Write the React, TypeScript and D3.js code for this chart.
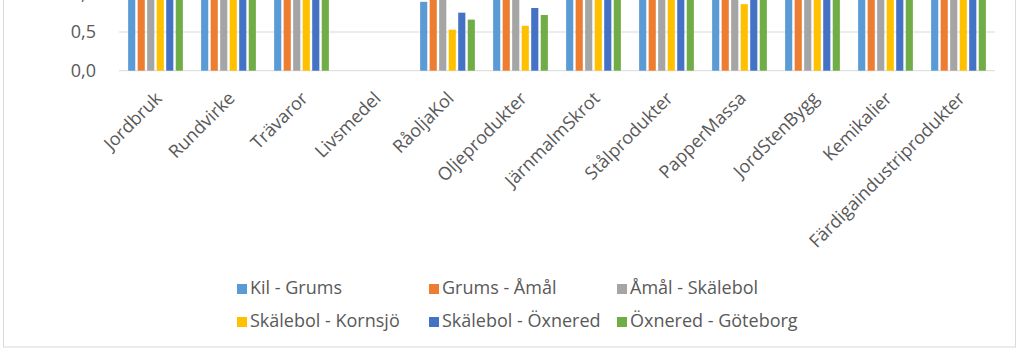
import { useEffect, useRef } from 'react';
import * as d3 from 'd3';

const categories = [
  'Jordbruk', 'Rundvirke', 'Trävaror', 'Livsmedel', 'RåoljaKol', 'Oljeprodukter',
  'JärnmalmSkrot', 'Stålprodukter', 'PapperMassa', 'JordStenBygg', 'Kemikalier',
  'Färdigaindustriprodukter',
];

const seriesNames = [
  'Kil - Grums', 'Grums - Åmål', 'Åmål - Skälebol',
  'Skälebol - Kornsjö', 'Skälebol - Öxnered', 'Öxnered - Göteborg',
];

const seriesColors = ['#5B9BD5', '#ED7D31', '#A5A5A5', '#FFC000', '#4472C4', '#70AD47'];

// one array per series, in category order
const kilGrums = [1, 1, 1, 0, 0.89, 1, 1, 1, 1, 1, 1, 1];
const grumsAmal = [1, 1, 1, 0, 1, 1, 1, 1, 1, 1, 1, 1];
const amalSkalebol = [1, 1, 1, 0, 1, 1, 1, 1, 1, 1, 1, 1];
const skalebolKornsjo = [1, 1, 1, 0, 0.53, 0.58, 1, 1, 0.86, 1, 1, 1];
const skalebolOxnered = [1, 1, 1, 0, 0.75, 0.81, 1, 1, 1, 1, 1, 1];
const oxneredGoteborg = [1, 1, 1, 0, 0.66, 0.72, 1, 1, 1, 1, 1, 1];

const seriesValues = [kilGrums, grumsAmal, amalSkalebol, skalebolKornsjo, skalebolOxnered, oxneredGoteborg];

const yTicks = [0, 0.5, 1];

const FONT = '"Open Sans", "Noto Sans", sans-serif';
const TEXT = '#595959';

export default function App() {
  const svgRef = useRef<SVGSVGElement>(null);
  const width = 1023;
  const height = 354;

  useEffect(() => {
    if (!svgRef.current) return;
    const svg = d3.select(svgRef.current);
    svg.selectAll('*').remove();

    // chart frame (top edge is cut off in the picture)
    svg.append('rect')
      .attr('x', 3.5)
      .attr('y', -10)
      .attr('width', 1012)
      .attr('height', 357)
      .attr('fill', 'white')
      .attr('stroke', '#d9d9d9');

    const plot = { left: 119, right: 995, top: -6.7, bottom: 70.7 };

    const x0 = d3.scaleBand()
      .domain(categories)
      .range([plot.left, plot.right])
      .paddingInner(0.25)
      .paddingOuter(0.125);

    const x1 = d3.scaleBand()
      .domain(seriesNames)
      .range([0, x0.bandwidth()])
      .paddingInner(0.25);

    const y = d3.scaleLinear()
      .domain([0, 1])
      .range([plot.bottom, plot.top]);

    // grid
    svg.append('g')
      .selectAll('line')
      .data(yTicks)
      .join('line')
      .attr('x1', plot.left)
      .attr('x2', plot.right)
      .attr('y1', d => y(d))
      .attr('y2', d => y(d))
      .attr('stroke', '#d9d9d9')
      .attr('stroke-width', 1);

    // y labels
    svg.append('g')
      .selectAll('text')
      .data(yTicks)
      .join('text')
      .attr('x', 96)
      .attr('y', d => y(d))
      .attr('dy', '0.35em')
      .attr('text-anchor', 'end')
      .attr('font-family', FONT)
      .attr('font-size', '18px')
      .attr('fill', TEXT)
      .text(d => d3.format('.1f')(d).replace('.', ','));

    // bars
    const groups = svg.append('g')
      .selectAll('g')
      .data(categories)
      .join('g')
      .attr('transform', d => `translate(${x0(d)},0)`);

    groups.selectAll('rect')
      .data((_, i) => seriesNames.map((s, j) => ({ s, v: seriesValues[j][i], c: seriesColors[j] })))
      .join('rect')
      .attr('x', d => x1(d.s) || 0)
      .attr('y', d => y(d.v))
      .attr('width', x1.bandwidth())
      .attr('height', d => y(0) - y(d.v))
      .attr('fill', d => d.c);

    // x labels
    svg.append('g')
      .selectAll('text')
      .data(categories)
      .join('text')
      .attr('transform', d => `translate(${(x0(d) || 0) + x0.bandwidth() / 2 + 3},95) rotate(-45)`)
      .attr('text-anchor', 'end')
      .attr('dy', '0.35em')
      .attr('font-family', FONT)
      .attr('font-size', '18px')
      .attr('fill', TEXT)
      .text(d => d);

    // legend
    const legendX = [237, 429, 617];
    const legendY = [288, 321];
    seriesNames.forEach((name, i) => {
      const lx = legendX[i % 3];
      const ly = legendY[Math.floor(i / 3)];
      svg.append('rect')
        .attr('x', lx)
        .attr('y', ly - 4)
        .attr('width', 10)
        .attr('height', 10)
        .attr('fill', seriesColors[i]);
      svg.append('text')
        .attr('x', lx + 13)
        .attr('y', ly)
        .attr('dy', '0.35em')
        .attr('font-family', FONT)
        .attr('font-size', '18px')
        .attr('fill', TEXT)
        .text(name);
    });
  }, []);

  return (
    <svg
      ref={svgRef}
      width={width}
      height={height}
      style={{ position: 'absolute', left: 0, top: 0, background: 'white' }}
    />
  );
}
